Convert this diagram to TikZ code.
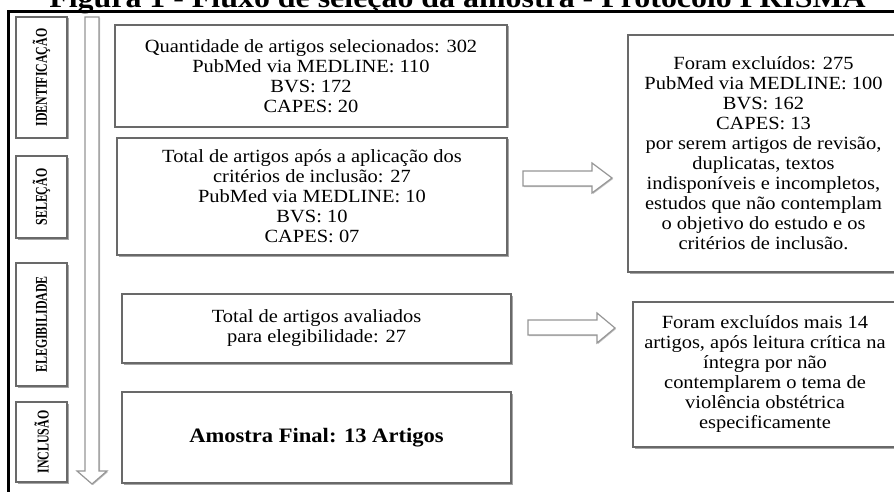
\documentclass[tikz,border=0pt]{standalone}
\usepackage{fontspec}
\setmainfont{Liberation Serif}[FakeStretch=1.1]
\newfontfamily\labelfont{Liberation Serif}[FakeStretch=0.72]
\usetikzlibrary{shadows}
\definecolor{boxgray}{RGB}{105,105,105}
\definecolor{arrowgray}{RGB}{150,150,150}
\tikzset{
  box/.style={draw=boxgray, line width=1.2pt, fill=white,
    drop shadow={shadow xshift=1.5pt, shadow yshift=-1.5pt, opacity=0.35, fill=black},
    inner sep=0pt, align=center, font=\fontsize{18.6}{20}\selectfont},
  lblbox/.style={draw=boxgray, line width=1.2pt, fill=white,
    drop shadow={shadow xshift=1.5pt, shadow yshift=-1.5pt, opacity=0.35, fill=black},
    inner sep=0pt, minimum width=51pt},
  lbltext/.style={rotate=90, inner sep=0pt, font=\labelfont\bfseries\fontsize{16.5}{18}\selectfont},
  blockarrow/.style={draw=arrowgray, line width=1.2pt, fill=white,
    drop shadow={shadow xshift=1pt, shadow yshift=-1pt, opacity=0.25, fill=black}},
  frameline/.style={line width=3pt, black}
}
\begin{document}
\begin{tikzpicture}[x=1pt,y=-1pt]
\useasboundingbox (0,0) rectangle (894,492);
\clip (0,0) rectangle (894,492);
\fill[white] (0,0) rectangle (894,492);

% title (top cut off)
\node[anchor=base, inner sep=0pt, font=\bfseries\fontsize{29}{30}\selectfont] (title) at (457.5,8)
  {Figura 1 - Fluxo de seleção da amostra - Protocolo PRISMA};

% frame
\coordinate (fbl) at (8,500);
\coordinate (ftl) at (8,12);
\coordinate (ftr) at (900,12);
\draw[frameline] (fbl) -- (ftl) -- (ftr);

% phase labels
\node[lblbox, minimum height=121pt] (identbox) at (41.5,77.5) {};
\node[lbltext] (identtxt) at (identbox.center) {IDENTIFICAÇÃO};
\node[lblbox, minimum height=82pt] (selbox) at (41.5,197) {};
\node[lbltext] (seltxt) at (selbox.center) {SELEÇÃO};
\node[lblbox, minimum height=123pt] (elegbox) at (41.5,324.5) {};
\node[lbltext] (elegtxt) at (elegbox.center) {ELEGIBILIDADE};
\node[lblbox, minimum height=80pt] (inclbox) at (41.5,442) {};
\node[lbltext] (incltxt) at (inclbox.center) {INCLUSÃO};

% vertical flow arrow
\draw[blockarrow] (85,17) -- (99,17) -- (99,471) -- (107,471) -- (92,484)
  -- (77,471) -- (85,471) -- cycle;

% main boxes
\node[box, minimum width=392pt, minimum height=102pt] (b1) at (311,76)
  {Quantidade de artigos selecionados: 302\\PubMed via MEDLINE: 110\\BVS: 172\\CAPES: 20};
\node[box, minimum width=390pt, minimum height=117pt] (b2) at (312,196.5)
  {Total de artigos após a aplicação dos\\critérios de inclusão: 27\\PubMed via MEDLINE: 10\\BVS: 10\\CAPES: 07};
\node[box, minimum width=389pt, minimum height=69pt] (b3) at (316.5,328.5)
  {Total de artigos avaliados\\para elegibilidade: 27};
\node[box, minimum width=389pt, minimum height=91pt, font=\bfseries\fontsize{20.5}{22}\selectfont] (b4) at (316.5,437.5)
  {Amostra Final: 13 Artigos};

% exclusion boxes
\node[box, minimum width=271pt, minimum height=237pt] (r1) at (763.5,153.5)
  {Foram excluídos: 275\\PubMed via MEDLINE: 100\\BVS: 162\\CAPES: 13\\por serem artigos de revisão,\\duplicatas, textos\\indisponíveis e incompletos,\\estudos que não contemplam\\o objetivo do estudo e os\\critérios de inclusão.};
\node[box, minimum width=264pt, minimum height=145pt] (r2) at (765,374.5)
  {Foram excluídos mais 14\\artigos, após leitura crítica na\\íntegra por não\\contemplarem o tema de\\violência obstétrica\\especificamente};

% horizontal block arrows
\draw[blockarrow] (523,171) -- (592,171) -- (592,163) -- (612,178) -- (592,193)
  -- (592,186) -- (523,186) -- cycle;
\draw[blockarrow] (528,320) -- (597,320) -- (597,313) -- (615,328) -- (597,343)
  -- (597,335) -- (528,335) -- cycle;
\end{tikzpicture}
\end{document}
